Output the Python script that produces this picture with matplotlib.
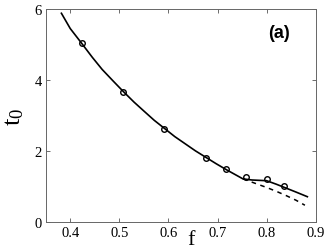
import matplotlib
matplotlib.use('Agg')
import matplotlib.pyplot as plt

plt.rcParams['font.family'] = ['Liberation Serif', 'DejaVu Serif']
plt.rcParams['mathtext.fontset'] = 'custom'
plt.rcParams['mathtext.rm'] = 'Liberation Serif'

# measured points (open circles)
f_pts = [0.423, 0.508, 0.592, 0.676, 0.718, 0.759, 0.801, 0.835]
t_pts = [5.04, 3.67, 2.63, 1.82, 1.49, 1.27, 1.21, 1.01]

# solid curve
f_solid = [0.382, 0.40, 0.423, 0.445, 0.465, 0.487, 0.508, 0.53, 0.55, 0.571,
           0.592, 0.613, 0.634, 0.655, 0.676, 0.697, 0.718, 0.735, 0.752,
           0.77, 0.80, 0.82, 0.84, 0.86, 0.883]
t_solid = [5.88, 5.45, 5.04, 4.64, 4.30, 3.98, 3.68, 3.38, 3.13, 2.87,
           2.64, 2.41, 2.21, 2.01, 1.83, 1.65, 1.48, 1.35, 1.22,
           1.19, 1.17, 1.07, 0.96, 0.85, 0.72]

# dashed branch
f_dash = [0.752, 0.78, 0.80, 0.82, 0.84, 0.86, 0.878]
t_dash = [1.22, 1.08, 0.98, 0.87, 0.75, 0.62, 0.48]

fig = plt.figure(figsize=(3.27, 2.53), dpi=100)
ax = fig.add_axes([45.7 / 327, 1 - 223.3 / 253, 270 / 327, 213.3 / 253])

ax.plot(f_solid, t_solid, color='black', lw=1.2)
ax.plot(f_dash, t_dash, color='black', lw=1.1, ls=(0, (3, 3)))
ax.plot(f_pts, t_pts, 'o', mfc='none', mec='black', ms=4, mew=1.0)

ax.set_xlim(0.35, 0.9)
ax.set_ylim(0, 6)
ax.set_xticks([0.4, 0.5, 0.6, 0.7, 0.8, 0.9])
ax.set_yticks([0, 2, 4, 6])
ax.set_xticklabels(['0.4', '0.5', '0.6', '0.7', '0.8', '0.9'], fontsize=10.5)
ax.set_yticklabels(['0', '2', '4', '6'], fontsize=10.5)
ax.tick_params(direction='in', length=3, width=0.6, color='#555555',
               top=True, right=True, pad=3)
for sp in ax.spines.values():
    sp.set_linewidth(0.7)
    sp.set_color('#666666')

ax.set_xlabel('f', fontsize=16)
ax.set_ylabel(r'$\mathregular{t_0}$', fontsize=19, labelpad=6)
ax.xaxis.set_label_coords(0.54, -0.035)

ax.text(0.825, 0.89, '(a)', transform=ax.transAxes, family='Liberation Sans',
        fontweight='bold', fontsize=13, ha='left', va='center')

fig.savefig('out.png', dpi=100)
